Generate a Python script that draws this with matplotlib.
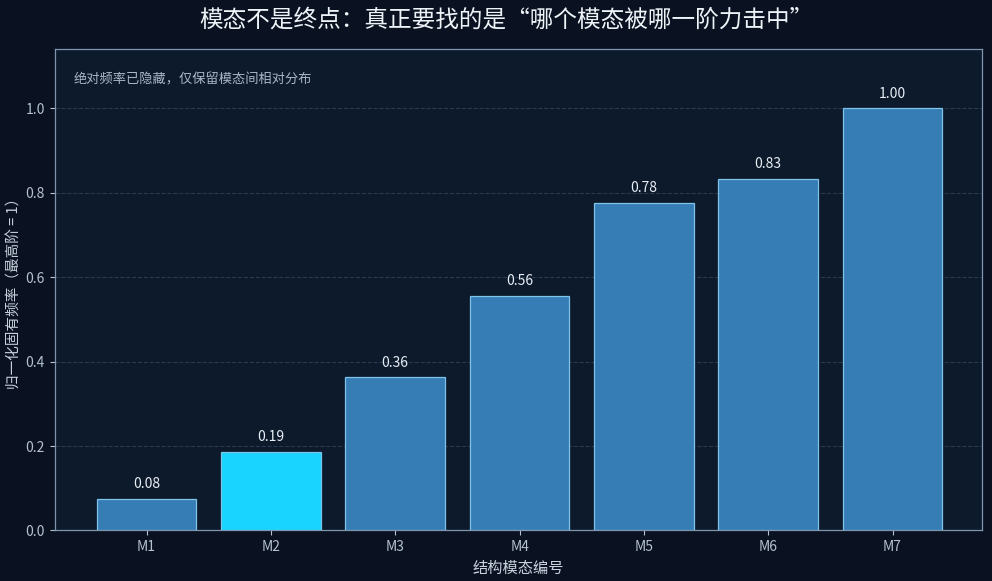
import matplotlib.pyplot as plt

plt.rcParams['font.family'] = ['Noto Sans CJK SC', 'DejaVu Sans']

modes = ['M1', 'M2', 'M3', 'M4', 'M5', 'M6', 'M7']
freq_norm = [0.075, 0.187, 0.363, 0.556, 0.777, 0.834, 1.0]
value_labels = ['0.08', '0.19', '0.36', '0.56', '0.78', '0.83', '1.00']
highlight = 'M2'

fig = plt.figure(figsize=(9.92, 5.81), dpi=100, facecolor='#0a1120')
ax = fig.add_axes([0.055, 0.087, 0.935, 0.828])
ax.set_facecolor('#0d1a2c')

colors = ['#18d4ff' if m == highlight else '#377db5' for m in modes]
x = range(len(modes))
bars = ax.bar(x, freq_norm, width=0.8, color=colors, edgecolor='#7cc4e8', linewidth=0.9, zorder=3)

for b, lab in zip(bars, value_labels):
    ax.text(b.get_x() + b.get_width() / 2, b.get_height() + 0.018, lab,
            ha='center', va='bottom', fontsize=10, color='#e8eef5', zorder=4)

ax.set_xticks(list(x))
ax.set_xticklabels(modes)
ax.set_xlim(-0.74, 6.72)
ax.set_ylim(0, 1.14)
ax.set_yticks([0.0, 0.2, 0.4, 0.6, 0.8, 1.0])
ax.yaxis.grid(True, linestyle='--', color='#2a3a50', linewidth=0.8, zorder=0)

for s in ax.spines.values():
    s.set_color('#7f95ad')
    s.set_linewidth(0.9)
ax.tick_params(colors='#b3c1d1', labelsize=10)

ax.set_xlabel('结构模态编号', fontsize=11, color='#c8d3df', labelpad=4)
ax.set_ylabel('归一化固有频率（最高阶 = 1）', fontsize=10.5, color='#c8d3df', labelpad=3)

ax.text(0.02, 0.95, '绝对频率已隐藏，仅保留模态间相对分布', transform=ax.transAxes,
        fontsize=9.5, color='#a9b6c6', va='top', ha='left')

fig.suptitle('模态不是终点：真正要找的是“哪个模态被哪一阶力击中”', fontsize=17,
             color='#eef3f8', x=0.51, y=0.985)

fig.savefig('out.png', dpi=100, facecolor=fig.get_facecolor())
